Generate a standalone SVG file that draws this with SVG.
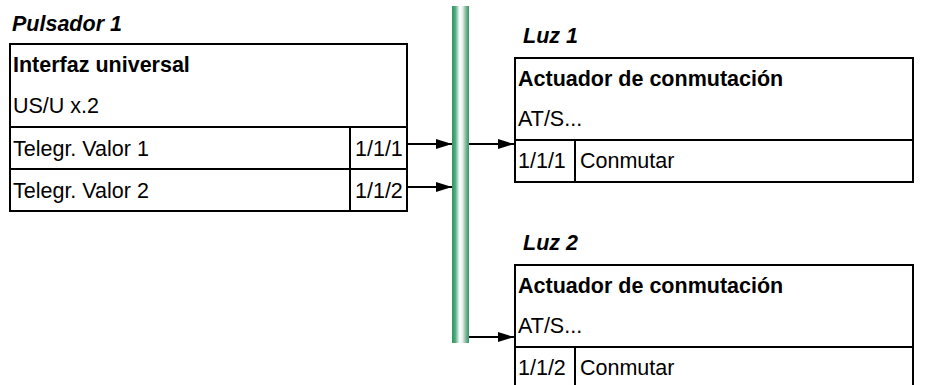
<svg xmlns="http://www.w3.org/2000/svg" width="930" height="385" viewBox="0 0 930 385">
<style>
text{font-family:"Liberation Sans",Arial,sans-serif;font-size:21.5px;fill:#000}
.t{font-weight:bold;font-style:italic}
.b{font-weight:bold}
.box{fill:#fff;stroke:#000;stroke-width:2}
.ln{stroke:#000;stroke-width:2;fill:none}
.ar{stroke:#000;stroke-width:2.2;fill:none;marker-end:url(#ah)}
</style>
<defs>
<marker id="ah" markerUnits="userSpaceOnUse" markerWidth="16" markerHeight="12" refX="16" refY="6" orient="auto">
<path d="M0,1 L16,6 L0,11 z" fill="#000"/>
</marker>
<linearGradient id="bus" x1="0" y1="0" x2="1" y2="0">
<stop offset="0" stop-color="#2a9560"/>
<stop offset="0.2" stop-color="#55aa80"/>
<stop offset="0.45" stop-color="#ffffff"/>
<stop offset="0.6" stop-color="#eef3f0"/>
<stop offset="0.85" stop-color="#6fb08e"/>
<stop offset="1" stop-color="#35986a"/>
</linearGradient>
</defs>
<rect id="bus-line" x="452" y="6" width="17" height="337" fill="url(#bus)"/>
<g id="pulsador1">
<text class="t" x="12" y="31">Pulsador 1</text>
<rect class="box" x="10" y="44" width="397" height="167"/>
<line class="ln" x1="10" y1="127" x2="407" y2="127"/>
<line class="ln" x1="10" y1="169" x2="407" y2="169"/>
<line class="ln" x1="350" y1="127" x2="350" y2="211"/>
<text class="b" x="13" y="72">Interfaz universal</text>
<text x="13" y="113">US/U x.2</text>
<text x="13" y="156">Telegr. Valor 1</text>
<text x="13" y="198">Telegr. Valor 2</text>
<text x="355" y="156">1/1/1</text>
<text x="355" y="198">1/1/2</text>
</g>
<g id="luz1">
<text class="t" x="523" y="43">Luz 1</text>
<rect class="box" x="515" y="58" width="398" height="124"/>
<line class="ln" x1="515" y1="140" x2="913" y2="140"/>
<line class="ln" x1="575" y1="140" x2="575" y2="182"/>
<text class="b" x="518" y="86">Actuador de conmutación</text>
<text x="518" y="126">AT/S...</text>
<text x="518" y="168">1/1/1</text>
<text x="580" y="168">Conmutar</text>
</g>
<g id="luz2">
<text class="t" x="523" y="250">Luz 2</text>
<rect class="box" x="515" y="265" width="398" height="125"/>
<line class="ln" x1="515" y1="347" x2="913" y2="347"/>
<line class="ln" x1="575" y1="347" x2="575" y2="390"/>
<text class="b" x="518" y="293">Actuador de conmutación</text>
<text x="518" y="333">AT/S...</text>
<text x="518" y="375">1/1/2</text>
<text x="580" y="375">Conmutar</text>
</g>
<g id="connectors">
<line class="ar" x1="407" y1="144" x2="452" y2="144"/>
<line class="ar" x1="407" y1="187" x2="452" y2="187"/>
<line class="ar" x1="469" y1="144" x2="514" y2="144"/>
<line class="ar" x1="469" y1="337" x2="514" y2="337"/>
</g>
</svg>
